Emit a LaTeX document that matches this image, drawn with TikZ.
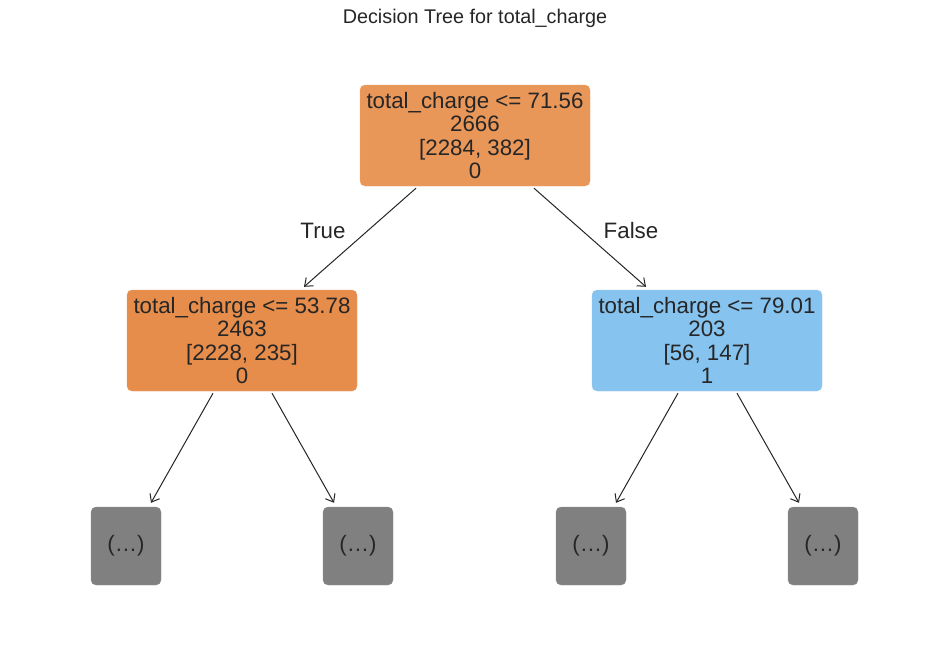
\documentclass[tikz,border=0pt]{standalone}
\usepackage{fontspec}
\setmainfont{Liberation Sans}
\usetikzlibrary{arrows.meta}
\definecolor{rootc}{HTML}{E99659}
\definecolor{leftc}{HTML}{E78D4C}
\definecolor{rightc}{HTML}{86C3EF}
\definecolor{leafc}{HTML}{808080}
\definecolor{txt}{HTML}{262626}
\tikzset{
  tnode/.style={rounded corners=5pt, minimum width=230pt, minimum height=101pt, inner sep=0pt,
    align=center, font=\fontsize{22.3}{23.6}\selectfont, text=txt},
  leaf/.style={rounded corners=5pt, fill=leafc, draw=leafc!85!white, minimum width=70pt, minimum height=78pt,
    inner sep=0pt, font=\fontsize{22.3}{24}\selectfont, text=txt},
  edge/.style={draw=txt, line width=1pt, -{Straight Barb[length=7pt,width=11pt,line width=1pt]}},
  elabel/.style={font=\fontsize{22.3}{24}\selectfont, text=txt}
}
\begin{document}
\begin{tikzpicture}[x=1pt,y=-1pt]
\useasboundingbox[fill=white] (0,0) rectangle (950,659);
\node[font=\fontsize{19.8}{22}\selectfont, text=txt] (title) at (475,18) {Decision Tree for total\_charge};
\node[tnode, fill=rootc, draw=rootc!85!white] (root) at (475,135.5) {total\_charge <= 71.56\\2666\\{[}2284, 382{]}\\0};
\node[tnode, fill=leftc, draw=leftc!85!white] (l) at (242,340.5) {total\_charge <= 53.78\\2463\\{[}2228, 235{]}\\0};
\node[tnode, fill=rightc, draw=rightc!85!white] (r) at (707,340.5) {total\_charge <= 79.01\\203\\{[}56, 147{]}\\1};
\node[leaf] (ll) at (126,546) {(…)};
\node[leaf] (lr) at (358,546) {(…)};
\node[leaf] (rl) at (591,546) {(…)};
\node[leaf] (rr) at (823,546) {(…)};
\draw[edge] ([xshift=-59pt,yshift=-2pt]root.south) -- ([xshift=62pt,yshift=3pt]l.north);
\draw[edge] ([xshift=59pt,yshift=-2pt]root.south) -- ([xshift=-61pt,yshift=3pt]r.north);
\draw[edge] ([xshift=-29pt,yshift=-2pt]l.south) -- ([xshift=25pt,yshift=4pt]ll.north);
\draw[edge] ([xshift=30pt,yshift=-2pt]l.south) -- ([xshift=-24pt,yshift=4pt]lr.north);
\draw[edge] ([xshift=-29pt,yshift=-2pt]r.south) -- ([xshift=25pt,yshift=4pt]rl.north);
\draw[edge] ([xshift=30pt,yshift=-2pt]r.south) -- ([xshift=-24pt,yshift=4pt]rr.north);
\node[elabel] (tl) at (323,231) {True};
\node[elabel] (fl) at (631,231) {False};
\end{tikzpicture}
\end{document}
